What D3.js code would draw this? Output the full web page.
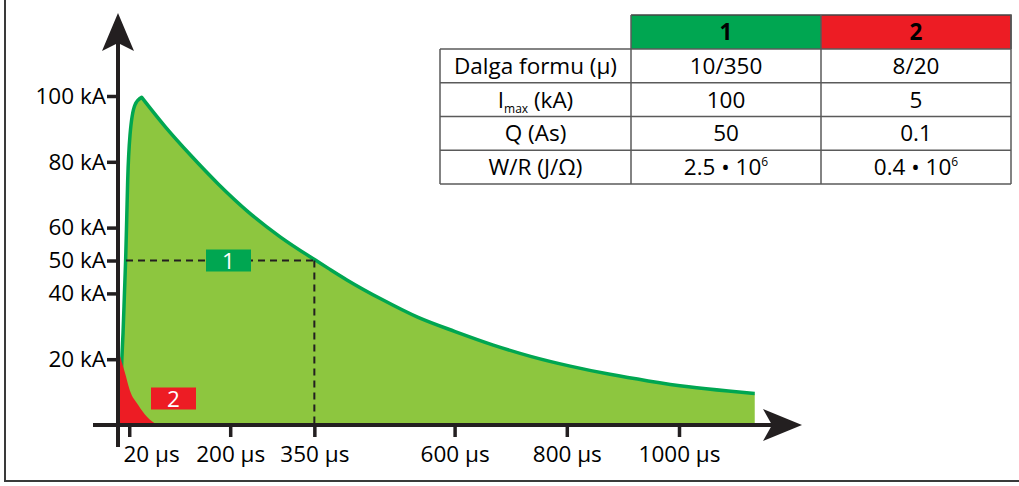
<!DOCTYPE html>
<html>
<head>
<meta charset="utf-8">
<script src="https://cdn.jsdelivr.net/npm/d3@7"></script>
<style>
    html, body { margin: 0; padding: 0; background: #fff; }
    svg { display: block; }
    text { font-family: 'Open Sans', sans-serif; fill: #000; }
</style>
</head>
<body>
<svg id="chart" width="1019" height="486"></svg>
<script>
// Wave 1 (10/350 µs): rise, then decay starting at the peak (time µs, current kA)
const wave1RiseTime = [0, 4, 7, 9, 11.5, 13.7, 15.5, 17.3, 21.4, 30.3, 42.2];
const wave1RiseCurrent = [0, 6, 20.7, 28, 40, 50.7, 62.3, 74.5, 88.1, 97.3, 99.6];
const wave1DecayTime = [42.2, 84, 130, 179, 232, 289, 351, 375, 408, 470, 535, 601, 669, 737, 806, 877, 945, 1017, 1088, 1135];
const wave1DecayCurrent = [99.6, 90.7, 81.9, 73.2, 64.8, 57.2, 50.2, 47.6, 44.1, 38.2, 32.7, 28.4, 24.3, 20.8, 17.9, 15.4, 13.4, 11.6, 10.3, 9.6];

// Wave 2 (8/20 µs)
const wave2Time = [0, 3, 7, 12.5, 21, 36, 52, 70];
const wave2Current = [20.5, 21, 19, 15.8, 10.6, 6.1, 2.4, 0];

// Axis ticks
const xTickValues = [20, 200, 350, 600, 800, 1000];
const xTickLabels = ['20 µs', '200 µs', '350 µs', '600 µs', '800 µs', '1000 µs'];
const yTickValues = [20, 40, 50, 60, 80, 100];
const yTickLabels = ['20 kA', '40 kA', '50 kA', '60 kA', '80 kA', '100 kA'];

// Half-value marker of wave 1
const markerTime = 350;
const markerCurrent = 50;

// Table
const tableHeaders = ['1', '2'];
const tableRowLabels = ['Dalga formu (µ)', 'I_max (kA)', 'Q (As)', 'W/R (J/Ω)'];
const tableWave1 = ['10/350', '100', '50', '2.5 • 10^6'];
const tableWave2 = ['8/20', '5', '0.1', '0.4 • 10^6'];

const GREEN = '#00a651';
const LIGHT_GREEN = '#8dc63f';
const RED = '#ed1c24';
const INK = '#231f20';
const FONT_SIZE = '22.5px';

const svg = d3.select('#chart');

const x = d3.scaleLinear().domain([0, 1000]).range([118, 679]);
const y = d3.scaleLinear().domain([0, 100]).range([425, 96]);

// Frame (left and bottom border)
svg.append('path')
    .attr('d', 'M5,0 L5,481 L1019,481')
    .attr('fill', 'none')
    .attr('stroke', '#3a3a3a')
    .attr('stroke-width', 2);

const zip = (ts, vs) => ts.map((t, i) => [t, vs[i]]);
const rise = zip(wave1RiseTime, wave1RiseCurrent);
const decay = zip(wave1DecayTime, wave1DecayCurrent);
const wave2 = zip(wave2Time, wave2Current);

const line = d3.line()
    .x(d => x(d[0]))
    .y(d => y(d[1]))
    .curve(d3.curveMonotoneX);

// rise and decay are smoothed separately so the peak keeps its point
const wave1Line = line(rise) + line(decay).replace(/^M/, 'L');
const wave1Area = `M${x(rise[0][0])},${y(0)}` + line(rise).replace(/^M/, 'L') +
    line(decay).replace(/^M/, 'L') + `L${x(decay[decay.length - 1][0])},${y(0)}Z`;

const area = d3.area()
    .x(d => x(d[0]))
    .y0(y(0))
    .y1(d => y(d[1]))
    .curve(d3.curveMonotoneX);

// Wave 1 area + outline
svg.append('path')
    .attr('d', wave1Area)
    .attr('fill', LIGHT_GREEN);

svg.append('path')
    .attr('d', wave1Line)
    .attr('fill', 'none')
    .attr('stroke', GREEN)
    .attr('stroke-width', 3.5)
    .attr('stroke-linejoin', 'round');

// Wave 2 area
svg.append('path')
    .datum(wave2)
    .attr('d', area)
    .attr('fill', RED);

// Dashed marker lines at 350 µs / 50 kA
const dashed = svg.append('g')
    .attr('fill', 'none')
    .attr('stroke', INK)
    .attr('stroke-width', 2)
    .attr('stroke-dasharray', '7,5');

dashed.append('line')
    .attr('x1', x(0) + 8).attr('y1', y(markerCurrent))
    .attr('x2', x(markerTime)).attr('y2', y(markerCurrent));

dashed.append('line')
    .attr('x1', x(markerTime)).attr('y1', y(markerCurrent))
    .attr('x2', x(markerTime)).attr('y2', y(0));

// Wave badges
function badge(cx, cy, label, color) {
    const g = svg.append('g').attr('transform', `translate(${cx},${cy})`);
    g.append('rect')
        .attr('x', -22.5).attr('y', -11)
        .attr('width', 45).attr('height', 22)
        .attr('fill', color);
    g.append('text')
        .attr('text-anchor', 'middle')
        .attr('dy', '0.36em')
        .style('font-size', FONT_SIZE)
        .style('fill', '#fff')
        .text(label);
}
badge(228.5, y(markerCurrent), tableHeaders[0], GREEN);
badge(173.5, 398.5, tableHeaders[1], RED);

// Axes
const yAxis = svg.append('g')
    .attr('transform', `translate(${x(0)},0)`)
    .call(d3.axisLeft(y)
        .tickValues(yTickValues)
        .tickFormat((d, i) => yTickLabels[i])
        .tickSize(11)
        .tickPadding(1));

const xAxis = svg.append('g')
    .attr('transform', `translate(0,${y(0)})`)
    .call(d3.axisBottom(x)
        .tickValues(xTickValues)
        .tickFormat((d, i) => xTickLabels[i])
        .tickSize(12)
        .tickPadding(9));

[yAxis, xAxis].forEach(axis => {
    axis.select('.domain').remove();
    axis.selectAll('.tick line')
        .attr('stroke', INK)
        .attr('stroke-width', 3.5);
    axis.selectAll('.tick text')
        .style('font-size', FONT_SIZE)
        .style('font-family', "'Open Sans', sans-serif")
        .attr('fill', '#000');
});

// first x label sits just right of the y axis
xAxis.selectAll('.tick text')
    .filter((d, i) => i === 0)
    .attr('text-anchor', 'start')
    .attr('x', x(0) + 5 - x(xTickValues[0]));

// Axis lines with arrow heads
svg.append('line')
    .attr('x1', x(0)).attr('y1', 447)
    .attr('x2', x(0)).attr('y2', 40)
    .attr('stroke', INK).attr('stroke-width', 4);

svg.append('line')
    .attr('x1', 93).attr('y1', y(0))
    .attr('x2', 772).attr('y2', y(0))
    .attr('stroke', INK).attr('stroke-width', 4);

const ax = x(0);
svg.append('path')
    .attr('d', `M${ax},13 L${ax + 16},51 L${ax},43 L${ax - 16},51 Z`)
    .attr('fill', INK);

const ay = y(0);
svg.append('path')
    .attr('d', `M802,${ay} L763,${ay - 16} L772,${ay} L763,${ay + 16} Z`)
    .attr('fill', INK);

// Table
const colEdges = [440, 631, 821, 1011];
const headerTop = 15;
const bodyTop = 49;
const rowH = 33.75;

const table = svg.append('g');

// header cells
[GREEN, RED].forEach((c, i) => {
    table.append('rect')
        .attr('x', colEdges[i + 1]).attr('y', headerTop)
        .attr('width', colEdges[i + 2] - colEdges[i + 1])
        .attr('height', bodyTop - headerTop)
        .attr('fill', c);
    table.append('text')
        .attr('x', (colEdges[i + 1] + colEdges[i + 2]) / 2)
        .attr('y', (headerTop + bodyTop) / 2)
        .attr('dy', '0.36em')
        .attr('text-anchor', 'middle')
        .style('font-size', FONT_SIZE)
        .style('font-weight', 'bold')
        .style('fill', '#000')
        .text(tableHeaders[i]);
});

// grid lines
const gridColor = '#5a5a5a';
table.append('path')
    .attr('d', `M${colEdges[1]},${headerTop} H${colEdges[3]} V${bodyTop}`)
    .attr('fill', 'none')
    .attr('stroke', '#444')
    .attr('stroke-width', 1.5);
for (let r = 0; r <= tableRowLabels.length; r++) {
    table.append('line')
        .attr('x1', colEdges[0]).attr('x2', colEdges[3])
        .attr('y1', bodyTop + r * rowH).attr('y2', bodyTop + r * rowH)
        .attr('stroke', gridColor).attr('stroke-width', 1.5);
}
colEdges.forEach((cx, i) => {
    table.append('line')
        .attr('x1', cx).attr('x2', cx)
        .attr('y1', i === 0 ? bodyTop : headerTop)
        .attr('y2', bodyTop + tableRowLabels.length * rowH)
        .attr('stroke', gridColor).attr('stroke-width', 1.5);
});

// cell text with _sub and ^sup support
function cellText(cx, cy, str) {
    const t = table.append('text')
        .attr('x', cx).attr('y', cy)
        .attr('dy', '0.36em')
        .attr('text-anchor', 'middle')
        .style('font-size', FONT_SIZE);
    if (str.includes('_')) {
        const m = str.match(/^(.*)_([a-z]+)(.*)$/);
        t.append('tspan').text(m[1]);
        t.append('tspan').attr('dy', 5).style('font-size', '12px').text(m[2]);
        t.append('tspan').attr('dy', -5).text(m[3]);
    } else if (str.includes('^')) {
        const parts = str.split('^');
        t.append('tspan').text(parts[0]);
        t.append('tspan').attr('dy', -9).style('font-size', '12px').text(parts[1]);
    } else {
        t.text(str);
    }
}

tableRowLabels.forEach((label, r) => {
    const cy = bodyTop + (r + 0.5) * rowH;
    cellText((colEdges[0] + colEdges[1]) / 2, cy, label);
    cellText((colEdges[1] + colEdges[2]) / 2, cy, tableWave1[r]);
    cellText((colEdges[2] + colEdges[3]) / 2, cy, tableWave2[r]);
});
</script>
</body>
</html>
